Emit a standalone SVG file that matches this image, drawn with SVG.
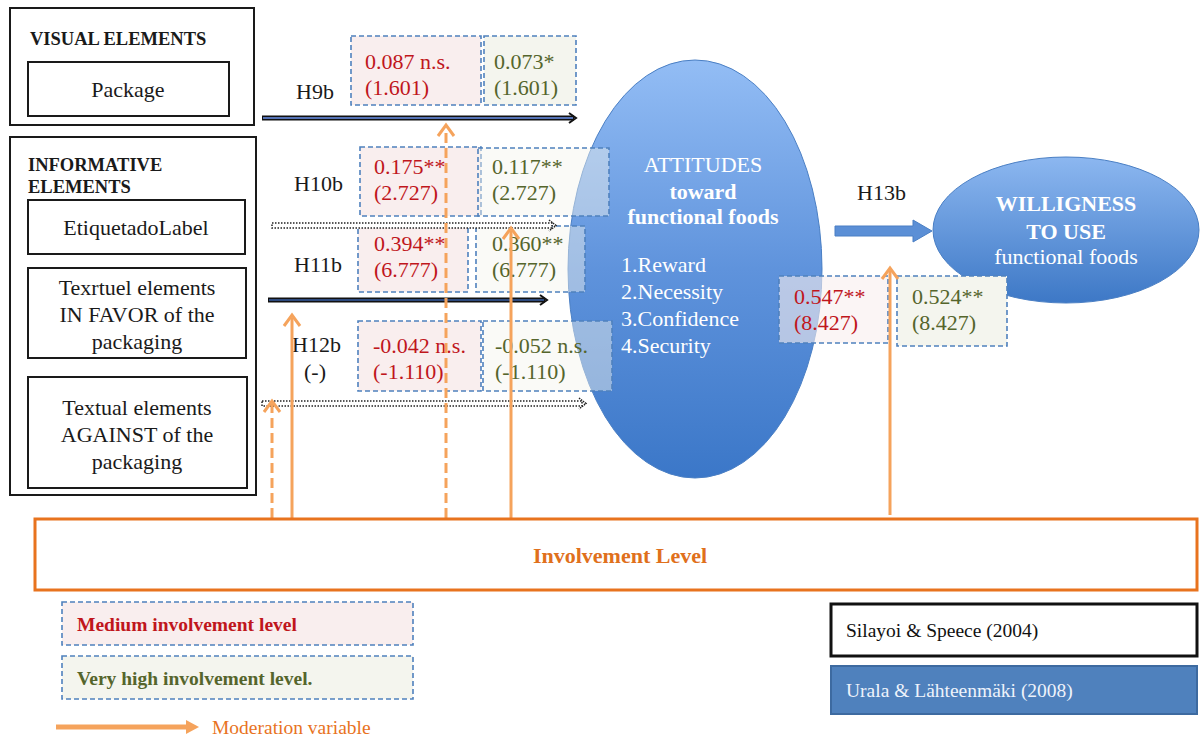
<svg xmlns="http://www.w3.org/2000/svg" width="1200" height="737" viewBox="0 0 1200 737" font-family="'Liberation Serif', 'Times New Roman', serif">
  <defs>
    <linearGradient id="gAtt" x1="0" y1="0" x2="0" y2="1">
      <stop offset="0" stop-color="#93bdf5"/>
      <stop offset="0.5" stop-color="#5f93dc"/>
      <stop offset="1" stop-color="#3b77c8"/>
    </linearGradient>
    <linearGradient id="gWill" x1="0" y1="0" x2="0" y2="1">
      <stop offset="0" stop-color="#8cb7f0"/>
      <stop offset="1" stop-color="#3d78c6"/>
    </linearGradient>
  </defs>
  <style>
    text { font-family: "Liberation Serif", "Times New Roman", serif; }
    .box { fill: #ffffff; stroke: #1a1a1a; stroke-width: 2; }
    .lbl { font-size: 22px; fill: #1a1a1a; }
    .hd { font-size: 18.5px; font-weight: bold; fill: #1a1a1a; }
    .mid { text-anchor: middle; }
    .vr { fill: #f9eeee; stroke: #4f81bd; stroke-width: 1.6; stroke-dasharray: 5 3; }
    .vg { fill: #f4f5ee; stroke: #4f81bd; stroke-width: 1.6; stroke-dasharray: 5 3; }
    .vgt { fill: rgba(244,245,238,0.45); stroke: #4f81bd; stroke-width: 1.6; stroke-dasharray: 5 3; }
    .red { font-size: 22px; fill: #c0161c; }
    .grn { font-size: 22px; fill: #55652c; }
    .mod { stroke: #f5a35c; stroke-width: 3; fill: none; }
    .modd { stroke: #f5a35c; stroke-width: 3; fill: none; stroke-dasharray: 10 5; }
    .head { fill: none; stroke: #f5a35c; stroke-width: 3; stroke-linejoin: miter; }
    .wt { fill: #ffffff; font-size: 22px; }
  </style>

  <!-- Visual elements group -->
  <g id="visual-elements">
    <rect class="box" x="10" y="8" width="244" height="117"/>
    <text class="hd" x="30" y="45">VISUAL ELEMENTS</text>
  </g>
  <g id="package">
    <rect class="box" x="28" y="62" width="201" height="54"/>
    <text class="lbl mid" x="128" y="97">Package</text>
  </g>

  <!-- Informative elements group -->
  <g id="informative-elements">
    <rect class="box" x="10" y="137" width="246" height="358"/>
    <text class="hd" x="28" y="171">INFORMATIVE</text>
    <text class="hd" x="28" y="193">ELEMENTS</text>
  </g>
  <g id="label">
    <rect class="box" x="28" y="200" width="217" height="54"/>
    <text class="lbl mid" x="136" y="235">EtiquetadoLabel</text>
  </g>
  <g id="favor">
    <rect class="box" x="28" y="268" width="218" height="90"/>
    <text class="lbl mid" x="137" y="295">Texrtuel elements</text>
    <text class="lbl mid" x="137" y="322">IN FAVOR of the</text>
    <text class="lbl mid" x="137" y="349">packaging</text>
  </g>
  <g id="against">
    <rect class="box" x="28" y="377" width="219" height="111"/>
    <text class="lbl mid" x="137" y="415">Textual elements</text>
    <text class="lbl mid" x="137" y="442">AGAINST of the</text>
    <text class="lbl mid" x="137" y="469">packaging</text>
  </g>

  <!-- Attitudes construct -->
  <g id="attitudes">
    <ellipse cx="695" cy="269" rx="127" ry="209" fill="url(#gAtt)" stroke="#4a7fc4" stroke-width="1"/>
    <text class="mid wt" x="703" y="172">ATTITUDES</text>
    <text class="mid wt" x="703" y="199" font-weight="bold">toward</text>
    <text class="mid wt" x="703" y="224" font-weight="bold">functional foods</text>
    <text class="wt" x="621" y="272">1.Reward</text>
    <text class="wt" x="621" y="299">2.Necessity</text>
    <text class="wt" x="621" y="326">3.Confidence</text>
    <text class="wt" x="621" y="353">4.Security</text>
  </g>

  <!-- Willingness construct -->
  <g id="willingness">
    <ellipse cx="1066" cy="230" rx="133" ry="73" fill="url(#gWill)" stroke="#4a7fc4" stroke-width="1"/>
    <text class="mid wt" x="1066" y="211" font-weight="bold">WILLIGNESS</text>
    <text class="mid wt" x="1066" y="239" font-weight="bold">TO USE</text>
    <text class="mid wt" x="1066" y="264">functional foods</text>
  </g>

  <!-- Path coefficients -->
  <g id="coef-h9b">
    <rect class="vr" x="351" y="36" width="130" height="69"/>
    <text class="red" x="365" y="69">0.087 n.s.</text>
    <text class="red" x="365" y="95">(1.601)</text>
    <rect class="vg" x="484" y="36" width="92" height="69"/>
    <text class="grn" x="494" y="69">0.073*</text>
    <text class="grn" x="494" y="95">(1.601)</text>
  </g>
  <g id="coef-h10b">
    <rect class="vr" x="360" y="147" width="121" height="69"/>
    <text class="red" x="374" y="174">0.175**</text>
    <text class="red" x="374" y="200">(2.727)</text>
    <rect class="vgt" x="478" y="148" width="131" height="68"/>
    <text class="grn" x="492" y="174">0.117**</text>
    <text class="grn" x="492" y="200">(2.727)</text>
  </g>
  <g id="coef-h11b">
    <rect class="vr" x="358" y="226" width="110" height="66"/>
    <text class="red" x="374" y="251">0.394**</text>
    <text class="red" x="374" y="277">(6.777)</text>
    <rect class="vgt" x="476" y="226" width="109" height="66"/>
    <text class="grn" x="492" y="251">0.360**</text>
    <text class="grn" x="492" y="277">(6.777)</text>
  </g>
  <g id="coef-h12b">
    <rect class="vr" x="358" y="321" width="123" height="70"/>
    <text class="red" x="373" y="353">-0.042 n.s.</text>
    <text class="red" x="373" y="379">(-1.110)</text>
    <rect class="vgt" x="483" y="321" width="129" height="70"/>
    <text class="grn" x="495" y="353">-0.052 n.s.</text>
    <text class="grn" x="495" y="379">(-1.110)</text>
  </g>
  <g id="coef-h13b">
    <rect x="779" y="276" width="109" height="67" fill="rgba(249,238,238,0.6)" stroke="#4f81bd" stroke-width="1.6" stroke-dasharray="5 3"/>
    <text class="red" x="794" y="304">0.547**</text>
    <text class="red" x="794" y="330">(8.427)</text>
    <rect class="vg" x="897" y="276" width="110" height="70"/>
    <text class="grn" x="912" y="304">0.524**</text>
    <text class="grn" x="912" y="330">(8.427)</text>
  </g>

  <!-- Hypothesis labels -->
  <g id="hyp-labels">
    <text class="lbl" x="296" y="99">H9b</text>
    <text class="lbl" x="294" y="191">H10b</text>
    <text class="lbl" x="294" y="272">H11b</text>
    <text class="lbl" x="292" y="352">H12b</text>
    <text class="lbl" x="304" y="379">(-)</text>
    <text class="lbl" x="857" y="200">H13b</text>
  </g>

  <!-- Connectors -->
  <g id="connectors">
    <!-- H9b -->
    <line x1="262" y1="118" x2="574" y2="118" stroke="#111" stroke-width="5"/>
    <line x1="263" y1="118" x2="573" y2="118" stroke="#5572b5" stroke-width="2"/>
    <path d="M569,113 L576,118 L569,123" fill="none" stroke="#111" stroke-width="2"/>
    <!-- H10b dotted -->
    <rect x="272" y="223" width="280" height="5" fill="#fff" stroke="#222" stroke-width="1.5" stroke-dasharray="1.5 1.5"/>
    <path d="M549,220 L556,225.5 L549,231" fill="none" stroke="#222" stroke-width="1.5" stroke-dasharray="1.5 1"/>
    <!-- H11b -->
    <line x1="268" y1="300" x2="545" y2="300" stroke="#111" stroke-width="5"/>
    <line x1="269" y1="300" x2="544" y2="300" stroke="#2d4a7e" stroke-width="2"/>
    <path d="M540,295 L547,300 L540,305" fill="none" stroke="#111" stroke-width="2"/>
    <!-- H12b dotted -->
    <rect x="262" y="401" width="320" height="5" fill="#fff" stroke="#222" stroke-width="1.5" stroke-dasharray="1.5 1.5"/>
    <path d="M579,398 L586,403.5 L579,409" fill="none" stroke="#222" stroke-width="1.5" stroke-dasharray="1.5 1"/>
    <!-- H13b block arrow -->
    <path d="M835,226 L913,226 L913,220 L932,231 L913,242 L913,236 L835,236 Z" fill="#5b8fd6" stroke="#4a7fc4" stroke-width="1"/>

    <!-- moderation arrows from involvement level -->
    <line class="modd" x1="272" y1="518" x2="272" y2="404"/>
    <path class="head" d="M264,412 L272,401 L280,412"/>
    <line class="mod" x1="292" y1="518" x2="292" y2="318"/>
    <path class="head" d="M284,326 L292,315 L300,326"/>
    <line class="modd" x1="446" y1="518" x2="446" y2="128"/>
    <path class="head" d="M438,136 L446,125 L454,136"/>
    <line class="mod" x1="511" y1="518" x2="511" y2="231"/>
    <path class="head" d="M503,239 L511,228 L519,239"/>
    <line class="mod" x1="890" y1="515" x2="890" y2="271"/>
    <path class="head" d="M882,279 L890,268 L898,279"/>
  </g>

  <!-- Moderator -->
  <g id="involvement">
    <rect x="35" y="519" width="1162" height="71" fill="#fff" stroke="#e8731e" stroke-width="3"/>
    <text x="620" y="563" font-size="22" font-weight="bold" fill="#e0701c" text-anchor="middle">Involvement Level</text>
  </g>

  <!-- Legend -->
  <g id="legend-medium">
    <rect class="vr" x="62" y="602" width="351" height="43"/>
    <text x="77" y="631" font-size="19.5" font-weight="bold" fill="#c0161c">Medium involvement level</text>
  </g>
  <g id="legend-high">
    <rect class="vg" x="62" y="656" width="351" height="43"/>
    <text x="77" y="685" font-size="19.5" font-weight="bold" fill="#55652c">Very high involvement level.</text>
  </g>
  <g id="legend-moderation">
    <line x1="56" y1="727" x2="190" y2="727" stroke="#f5a35c" stroke-width="5"/>
    <path d="M186,720 L199,727 L186,734 Z" fill="#f5a35c"/>
    <text x="212" y="734" font-size="19.5" fill="#e8731e">Moderation variable</text>
  </g>
  <g id="legend-silayoi">
    <rect x="831" y="604" width="366" height="52" fill="#fff" stroke="#111" stroke-width="3"/>
    <text x="846" y="637" font-size="19.5" fill="#111">Silayoi &amp; Speece (2004)</text>
  </g>
  <g id="legend-urala">
    <rect x="831" y="666" width="366" height="48" fill="#4f81bd" stroke="#3d6aa0" stroke-width="2"/>
    <text x="846" y="697" font-size="19.5" fill="#eef3fb">Urala &amp; Lähteenmäki (2008)</text>
  </g>
</svg>
